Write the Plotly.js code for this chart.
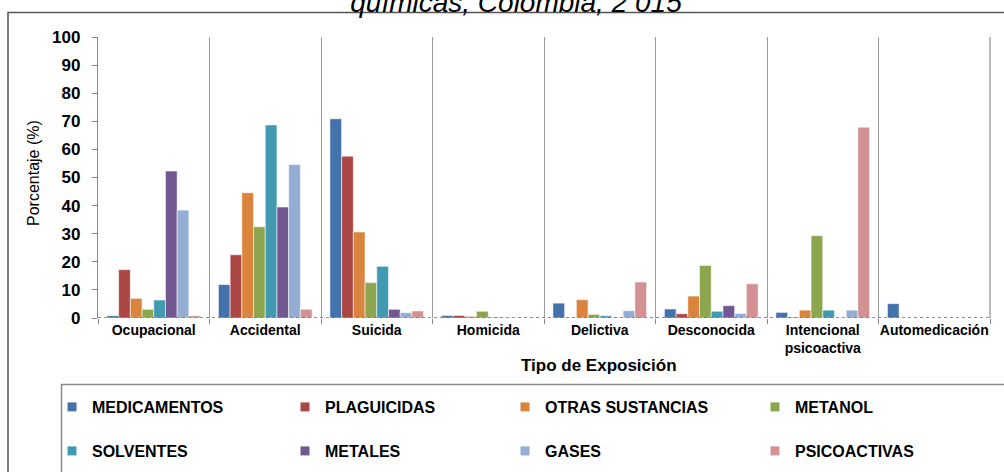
<!DOCTYPE html>
<html>
<head>
<meta charset="utf-8">
<script src="https://cdn.plot.ly/plotly-3.0.1.min.js"></script>
<style>html,body{margin:0;padding:0;background:#fff;}#chart{width:1004px;height:472px;}</style>
</head>
<body>
<div id="chart"></div>
<script>
const categories = ["Ocupacional", "Accidental", "Suicida", "Homicida", "Delictiva", "Desconocida", "Intencional<br>psicoactiva", "Automedicación"];
const seriesNames = ["MEDICAMENTOS", "PLAGUICIDAS", "OTRAS SUSTANCIAS", "METANOL", "SOLVENTES", "METALES", "GASES", "PSICOACTIVAS"];
const medicamentos = [0.8, 11.9, 70.9, 0.9, 5.3, 3.2, 2.0, 5.1];
const plaguicidas = [17.2, 22.5, 57.6, 0.9, 0.2, 1.5, 0.3, 0];
const otrasSustancias = [7.0, 44.6, 30.6, 0.6, 6.5, 7.8, 2.8, 0];
const metanol = [3.1, 32.5, 12.6, 2.4, 1.3, 18.7, 29.3, 0];
const solventes = [6.4, 68.7, 18.4, 0.3, 0.8, 2.4, 2.8, 0];
const metales = [52.3, 39.5, 3.1, 0.1, 0.2, 4.4, 0, 0];
const gases = [38.4, 54.6, 1.9, 0.1, 2.6, 1.6, 2.8, 0];
const psicoactivas = [0.8, 3.1, 2.5, 0.2, 12.8, 12.2, 67.9, 0];
const yTicks = [0, 10, 20, 30, 40, 50, 60, 70, 80, 90, 100];

const values = [medicamentos, plaguicidas, otrasSustancias, metanol, solventes, metales, gases, psicoactivas];
const colors = ["#4472AA", "#AA4643", "#DB843D", "#8CA64E", "#4299B2", "#725891", "#93ADD5", "#D39193"];

const W = 1004, H = 472;
const L = 98, R = 990, T = 37, B = 318;
const px2x = p => (p - L) / (R - L);
const py2y = p => (B - p) / (B - T);
const FONT = 'Arial, Liberation Sans, sans-serif';

const traces = [];
values.forEach((v, i) => {
  traces.push({
    type: 'bar', x: categories, y: v, name: seriesNames[i],
    marker: {color: colors[i], line: {color: 'rgba(255,255,255,0.7)', width: 0.8}},
    showlegend: false, legendgroup: 'g' + i, hoverinfo: 'x+y+name'
  });
});
// legend text start x and row center y, in pixels
const legPos = [[92, 407], [325, 407], [545, 407], [795, 407], [92, 451], [325, 451], [545, 451], [795, 451]];
const layoutLegends = {};
values.forEach((v, i) => {
  const key = i === 0 ? 'legend' : 'legend' + (i + 1);
  traces.push({
    type: 'scatter', mode: 'markers', x: [null], y: [null], name: seriesNames[i],
    marker: {color: colors[i], symbol: 'square', size: 9},
    showlegend: true, legendgroup: 'g' + i, legend: key, hoverinfo: 'skip'
  });
  layoutLegends[key] = {
    xref: 'container', yref: 'container',
    x: (legPos[i][0] - 40) / W, y: 1 - legPos[i][1] / H,
    xanchor: 'left', yanchor: 'middle',
    bgcolor: 'rgba(0,0,0,0)', borderwidth: 0,
    font: {family: FONT, size: 16, color: '#000', weight: 'bold'},
    itemclick: false, itemdoubleclick: false
  };
});

const layout = Object.assign({
  width: W, height: H,
  margin: {l: L, r: W - R, t: T, b: H - B, pad: 0, autoexpand: false},
  paper_bgcolor: '#fff', plot_bgcolor: '#fff',
  font: {family: FONT, color: '#000'},
  title: {
    text: 'químicas, Colombia, 2 015',
    font: {family: FONT, size: 28, color: '#000', style: 'italic'},
    xref: 'container', yref: 'container', x: 516 / W, xanchor: 'center',
    y: 1 - 12 / H, yanchor: 'bottom'
  },
  barmode: 'group', bargap: 0.16, bargroupgap: 0,
  xaxis: {
    type: 'category', tickson: 'boundaries', showgrid: true, gridcolor: '#9a9a9a', gridwidth: 1.3,
    ticks: 'outside', ticklen: 5, tickcolor: '#868686', showline: false, zeroline: false,
    tickfont: {size: 14, weight: 'bold', color: '#000'}, tickangle: 0, automargin: false,
    ticklabelstandoff: 2,
    fixedrange: true
  },
  yaxis: {
    range: [0, 100], tickvals: yTicks, ticktext: yTicks.map(String),
    showgrid: false, zeroline: false, showline: true, linecolor: '#868686', linewidth: 1.3,
    ticks: 'outside', ticklen: 5, tickcolor: '#868686', ticklabelstandoff: 8,
    tickfont: {size: 17, weight: 'bold', color: '#000'}, automargin: false,
    fixedrange: true
  },
  annotations: [
    {text: 'Tipo de Exposición', xref: 'paper', yref: 'paper', x: px2x(599), y: py2y(365),
     xanchor: 'center', yanchor: 'middle', showarrow: false,
     font: {family: FONT, size: 17, weight: 'bold', color: '#000'}},
    {text: 'Porcentaje (%)', xref: 'paper', yref: 'paper', x: px2x(33), y: py2y(173),
     xanchor: 'center', yanchor: 'middle', showarrow: false, textangle: -90,
     font: {family: FONT, size: 16, color: '#000'}}
  ],
  shapes: [
    {type: 'line', xref: 'paper', yref: 'y', x0: 0, x1: 1, y0: 0, y1: 0, layer: 'above',
     line: {color: '#6f6f6f', width: 1.5, dash: 'dot'}},
    {type: 'line', xref: 'paper', yref: 'paper', x0: 1, x1: 1, y0: 0, y1: 1,
     line: {color: '#9a9a9a', width: 1.3}},
    {type: 'rect', xref: 'paper', yref: 'paper', x0: px2x(8), x1: px2x(1012), y0: py2y(12.5), y1: py2y(480),
     line: {color: '#555', width: 1.5}, fillcolor: 'rgba(0,0,0,0)'},
    {type: 'rect', xref: 'paper', yref: 'paper', x0: px2x(61.5), x1: px2x(1012), y0: py2y(384.5), y1: py2y(480),
     line: {color: '#8a8a8a', width: 1.5}, fillcolor: 'rgba(0,0,0,0)'}
  ]
}, layoutLegends);

Plotly.newPlot('chart', traces, layout, {displayModeBar: false});
</script>
</body>
</html>
